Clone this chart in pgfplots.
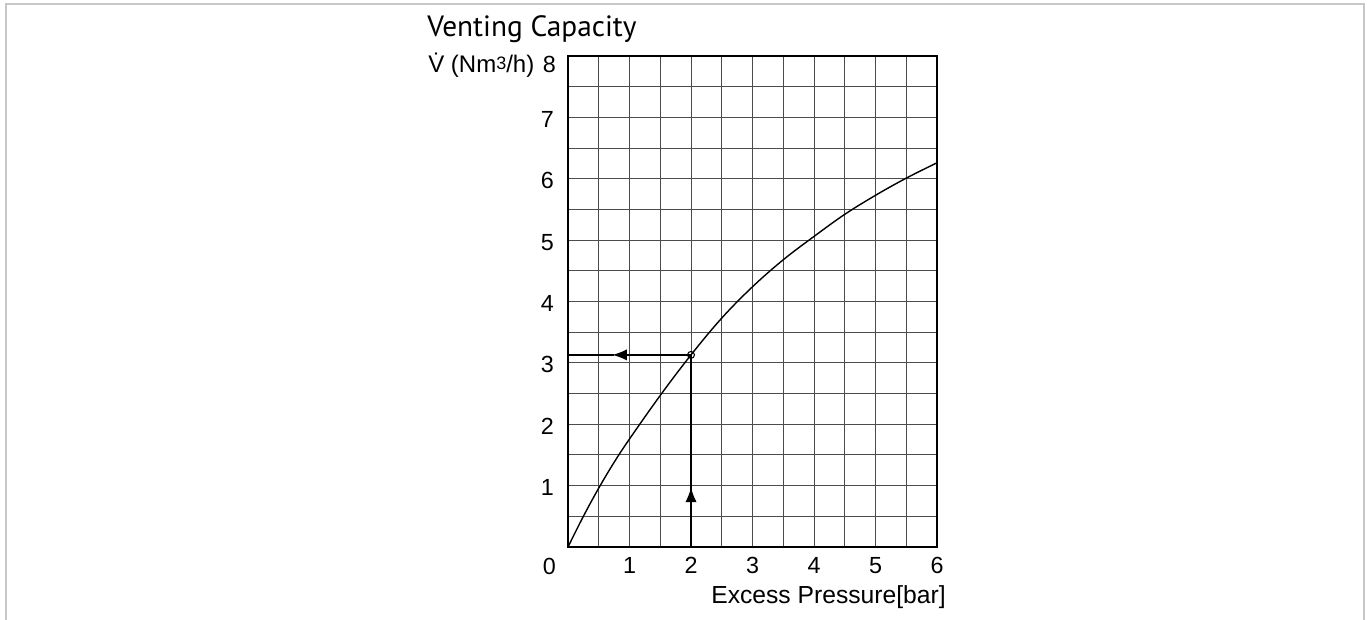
\documentclass[border=0pt]{standalone}
\usepackage{pgfplots}
\pgfplotsset{compat=1.18}
\usepackage{fontspec}
\setmainfont{Liberation Sans}
\newfontfamily\titlefont{PT Sans}
\usetikzlibrary{arrows.meta}
\begin{document}
\begin{tikzpicture}[x=1pt,y=1pt]
\useasboundingbox (0,0) rectangle (1026.75,464.25);
\draw[black!22, line width=1.3pt] (4.5,-2) -- (4.5,461.25) -- (1023,461.25) -- (1023,-2);
\begin{axis}[
 at={(426pt,54pt)}, anchor=south west,
 scale only axis, width=276.75pt, height=368.25pt,
 xmin=0,xmax=6,ymin=0,ymax=8,
 xtick={1,...,6}, minor xtick={0.5,1.5,2.5,3.5,4.5,5.5},
 ytick={1,...,7}, minor ytick={0.5,1.5,2.5,3.5,4.5,5.5,6.5,7.5},
 grid=both,
 major grid style={black!70, line width=0.7pt},
 minor grid style={black!70, line width=0.7pt},
 major tick length=0pt, minor tick length=0pt,
 axis line style={black, line width=1.1pt},
 tick label style={font=\fontsize{17.5}{20}\selectfont},
 /pgf/number format/assume math mode=true,
 xticklabel style={anchor=base, yshift=-20pt},
 yticklabel style={anchor=base east, xshift=-7pt, yshift=-7.5pt},
 clip=false,
]
\addplot[black, line width=1.05pt, smooth, tension=0.6] coordinates {
 (0,0) (0.25,0.5) (0.5,0.96) (0.75,1.38) (1,1.76) (1.5,2.47) (2,3.13) (2.5,3.73) (3,4.24)
 (3.5,4.68) (4,5.06) (4.5,5.42) (5,5.73) (5.5,6.01) (6,6.26)};
\addplot[black, line width=1.1pt, -{Latex[length=11pt,width=8.5pt]}] coordinates {(2,3.13) (0.72,3.13)};
\addplot[black, line width=1.1pt] coordinates {(0.75,3.13) (0,3.13)};
\addplot[black, line width=1.1pt, -{Latex[length=11pt,width=8.5pt]}] coordinates {(2,0) (2,0.97)};
\addplot[black, line width=1.1pt] coordinates {(2,0.9) (2,3.13)};
\addplot[black, only marks, mark=o, mark size=2.6pt, mark options={fill=white, line width=0.8pt}] coordinates {(2,3.13)};
\end{axis}
\node[anchor=base west, inner sep=0pt, font=\titlefont\fontsize{22}{26}\selectfont] at (320.25,436.5) {Venting Capacity};
\node[anchor=base west, inner sep=0pt, font=\fontsize{18}{21}\selectfont] at (321,409.5) {\.{V} (Nm\raisebox{0.3ex}{\fontsize{13.5}{14}\selectfont 3}/h)};
\node[anchor=base east, inner sep=0pt, font=\fontsize{17.5}{20}\selectfont] at (417,409.5) {8};
\node[anchor=base east, inner sep=0pt, font=\fontsize{17.5}{20}\selectfont] at (417,33.5) {0};
\node[anchor=base east, inner sep=0pt, font=\fontsize{18.5}{21}\selectfont] at (709.5,12) {Excess Pressure[bar]};
\end{tikzpicture}
\end{document}
